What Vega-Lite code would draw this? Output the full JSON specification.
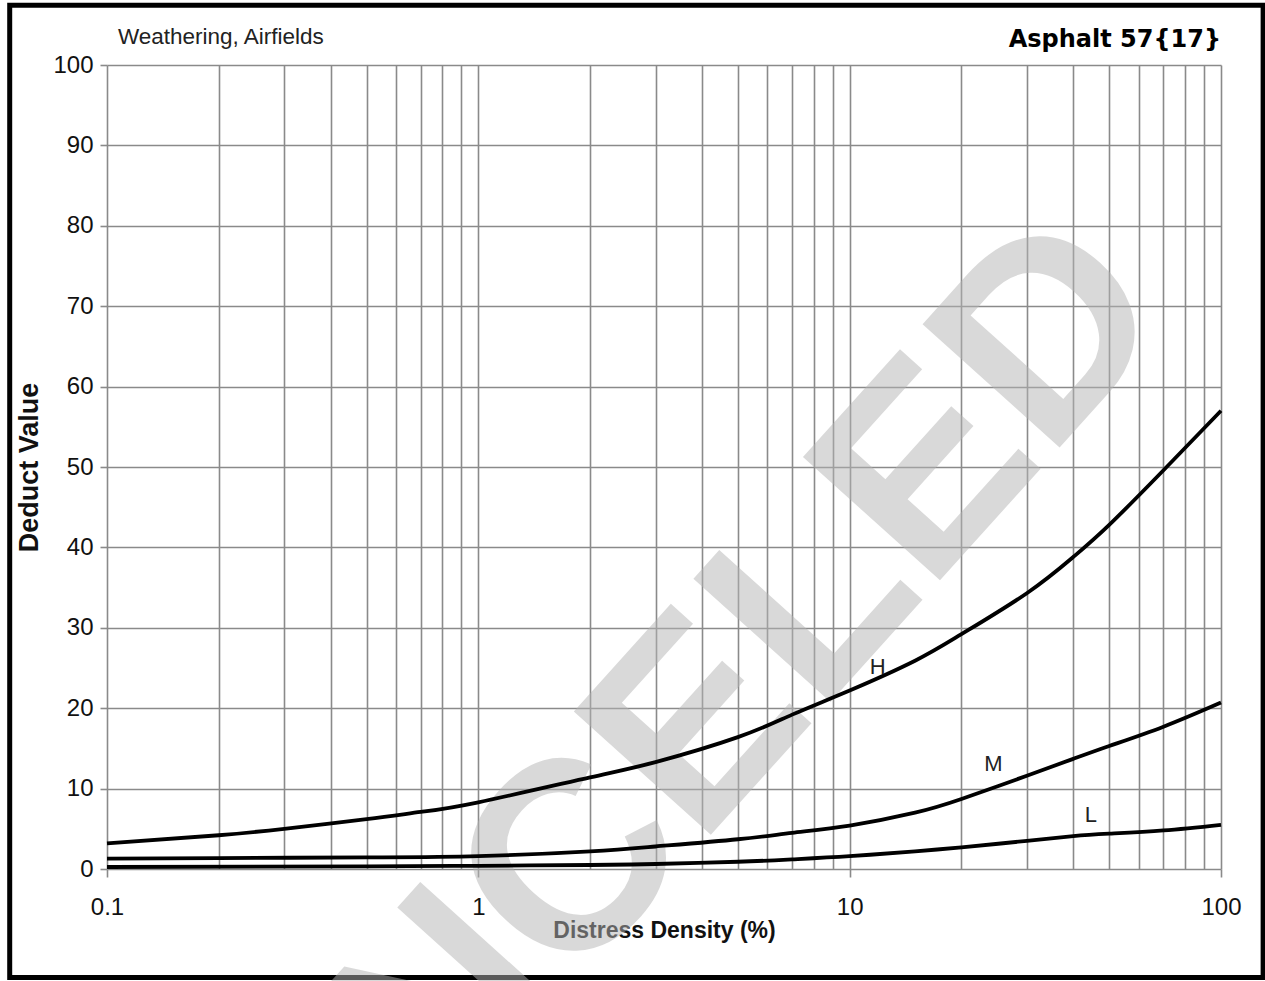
{
  "$schema": "https://vega.github.io/schema/vega-lite/v6.json",
  "width": 1114,
  "height": 804,
  "autosize": {"type": "none"},
  "padding": {"left": 107, "top": 65, "right": 44, "bottom": 112},
  "background": "white",
  "config": {
    "view": {"stroke": null},
    "axis": {
      "grid": true,
      "gridColor": "#8a8a8a",
      "gridWidth": 1.6,
      "domain": false,
      "tickColor": "#8a8a8a",
      "tickWidth": 1.6,
      "labelFont": "Liberation Sans, Arial",
      "labelFontSize": 24,
      "labelColor": "#111111",
      "titleColor": "#111111",
      "titleFontWeight": "bold"
    }
  },
  "datasets": {
    "curves": [
      {"level": "H", "density": 0.1, "deduct": 3.2},
      {"level": "H", "density": 0.2, "deduct": 4.2},
      {"level": "H", "density": 0.3, "deduct": 5.0},
      {"level": "H", "density": 0.5, "deduct": 6.2},
      {"level": "H", "density": 0.7, "deduct": 7.1},
      {"level": "H", "density": 1, "deduct": 8.3},
      {"level": "H", "density": 2, "deduct": 11.4},
      {"level": "H", "density": 3, "deduct": 13.3},
      {"level": "H", "density": 5, "deduct": 16.4},
      {"level": "H", "density": 7, "deduct": 19.2},
      {"level": "H", "density": 10, "deduct": 22.2},
      {"level": "H", "density": 15, "deduct": 25.9},
      {"level": "H", "density": 20, "deduct": 29.2},
      {"level": "H", "density": 30, "deduct": 34.3},
      {"level": "H", "density": 40, "deduct": 38.8},
      {"level": "H", "density": 50, "deduct": 42.8},
      {"level": "H", "density": 70, "deduct": 49.6},
      {"level": "H", "density": 100, "deduct": 57.0},
      {"level": "M", "density": 0.1, "deduct": 1.3},
      {"level": "M", "density": 0.2, "deduct": 1.35},
      {"level": "M", "density": 0.5, "deduct": 1.45},
      {"level": "M", "density": 1, "deduct": 1.6},
      {"level": "M", "density": 2, "deduct": 2.2},
      {"level": "M", "density": 3, "deduct": 2.8},
      {"level": "M", "density": 5, "deduct": 3.7},
      {"level": "M", "density": 7, "deduct": 4.5},
      {"level": "M", "density": 10, "deduct": 5.4},
      {"level": "M", "density": 15, "deduct": 7.0},
      {"level": "M", "density": 20, "deduct": 8.7},
      {"level": "M", "density": 30, "deduct": 11.6},
      {"level": "M", "density": 40, "deduct": 13.7},
      {"level": "M", "density": 50, "deduct": 15.3},
      {"level": "M", "density": 70, "deduct": 17.7},
      {"level": "M", "density": 100, "deduct": 20.7},
      {"level": "L", "density": 0.1, "deduct": 0.25},
      {"level": "L", "density": 0.5, "deduct": 0.32},
      {"level": "L", "density": 1, "deduct": 0.4},
      {"level": "L", "density": 2, "deduct": 0.5},
      {"level": "L", "density": 3, "deduct": 0.62},
      {"level": "L", "density": 5, "deduct": 0.9},
      {"level": "L", "density": 7, "deduct": 1.2},
      {"level": "L", "density": 10, "deduct": 1.6},
      {"level": "L", "density": 15, "deduct": 2.2},
      {"level": "L", "density": 20, "deduct": 2.7},
      {"level": "L", "density": 30, "deduct": 3.5},
      {"level": "L", "density": 40, "deduct": 4.1},
      {"level": "L", "density": 50, "deduct": 4.4},
      {"level": "L", "density": 70, "deduct": 4.8},
      {"level": "L", "density": 100, "deduct": 5.5}
    ],
    "curveLabels": [
      {"label": "H", "density": 11.9, "deduct": 25.1},
      {"label": "M", "density": 24.4, "deduct": 13.1},
      {"label": "L", "density": 44.6, "deduct": 6.7}
    ],
    "watermark": [{"text": "CANCELED"}],
    "headerLeft": [{"text": "Weathering, Airfields"}],
    "headerRight": [{"text": "Asphalt 57{17}"}],
    "frame": [{"name": "frame"}]
  },
  "layer": [
    {
      "data": {"name": "frame"},
      "mark": {"type": "rect", "filled": false, "stroke": "black", "strokeWidth": 5},
      "encoding": {
        "x": {"datum": 0.0547, "type": "quantitative", "scale": {"type": "log", "domain": [0.1, 100], "nice": false}},
        "x2": {"datum": 129.85},
        "y": {"datum": 107.43, "type": "quantitative", "scale": {"domain": [0, 100], "nice": false, "zero": false}},
        "y2": {"datum": -13.5}
      }
    },
    {
      "data": {"name": "watermark"},
      "mark": {"type": "text", "font": "Liberation Sans, Arial", "fontWeight": "bold", "fontSize": 268, "angle": -48, "align": "center", "baseline": "middle", "color": "#b4b4b4", "opacity": 0.5},
      "encoding": {
        "x": {"datum": 2.4, "type": "quantitative", "scale": {"type": "log", "domain": [0.1, 100], "nice": false}},
        "y": {"datum": 6.5, "type": "quantitative", "scale": {"domain": [0, 100], "nice": false, "zero": false}},
        "text": {"field": "text"}
      }
    },
    {
      "data": {"name": "curves"},
      "mark": {"type": "line", "color": "black", "strokeWidth": 3.8, "interpolate": "natural"},
      "encoding": {
        "x": {
          "field": "density",
          "type": "quantitative",
          "scale": {"type": "log", "domain": [0.1, 100], "nice": false},
          "axis": {
            "title": "Distress Density (%)",
            "titleFont": "Liberation Sans, Arial",
            "titleFontSize": 23,
            "titlePadding": 0,
            "values": [0.1, 0.2, 0.3, 0.4, 0.5, 0.6, 0.7, 0.8, 0.9, 1, 2, 3, 4, 5, 6, 7, 8, 9, 10, 20, 30, 40, 50, 60, 70, 80, 90, 100],
            "format": "~g",
            "labelExpr": "indexof([0.1, 1, 10, 100], datum.value) >= 0 ? datum.label : ''",
            "labelFlush": false,
            "labelOverlap": false,
            "labelPadding": 18,
            "tickSize": 8,
            "tickOpacity": {"condition": {"test": "indexof([0.1, 1, 10, 100], datum.value) >= 0", "value": 1}, "value": 0}
          }
        },
        "y": {
          "field": "deduct",
          "type": "quantitative",
          "scale": {"domain": [0, 100], "nice": false, "zero": false},
          "axis": {
            "title": "Deduct Value",
            "titleFont": "Liberation Sans, Arial",
            "titleFontSize": 27,
            "titlePadding": 9,
            "values": [0, 10, 20, 30, 40, 50, 60, 70, 80, 90, 100],
            "tickSize": 7,
            "labelPadding": 7
          }
        },
        "detail": {"field": "level", "type": "nominal"}
      }
    },
    {
      "data": {"name": "curveLabels"},
      "mark": {"type": "text", "font": "Liberation Sans, Arial", "fontSize": 22, "align": "center", "baseline": "middle", "color": "#222222"},
      "encoding": {
        "x": {"field": "density", "type": "quantitative", "scale": {"type": "log", "domain": [0.1, 100], "nice": false}},
        "y": {"field": "deduct", "type": "quantitative", "scale": {"domain": [0, 100], "nice": false, "zero": false}},
        "text": {"field": "label"}
      }
    },
    {
      "data": {"name": "headerLeft"},
      "mark": {"type": "text", "font": "Liberation Sans, Arial", "fontSize": 22.5, "align": "left", "baseline": "alphabetic", "color": "#222222"},
      "encoding": {
        "x": {"datum": 0.107, "type": "quantitative", "scale": {"type": "log", "domain": [0.1, 100], "nice": false}},
        "y": {"datum": 102.6, "type": "quantitative", "scale": {"domain": [0, 100], "nice": false, "zero": false}},
        "text": {"field": "text"}
      }
    },
    {
      "data": {"name": "headerRight"},
      "mark": {"type": "text", "font": "DejaVu Sans", "fontWeight": "bold", "fontSize": 24, "align": "right", "baseline": "alphabetic", "color": "black"},
      "encoding": {
        "x": {"datum": 100, "type": "quantitative", "scale": {"type": "log", "domain": [0.1, 100], "nice": false}},
        "y": {"datum": 102.28, "type": "quantitative", "scale": {"domain": [0, 100], "nice": false, "zero": false}},
        "text": {"field": "text"}
      }
    }
  ]
}
